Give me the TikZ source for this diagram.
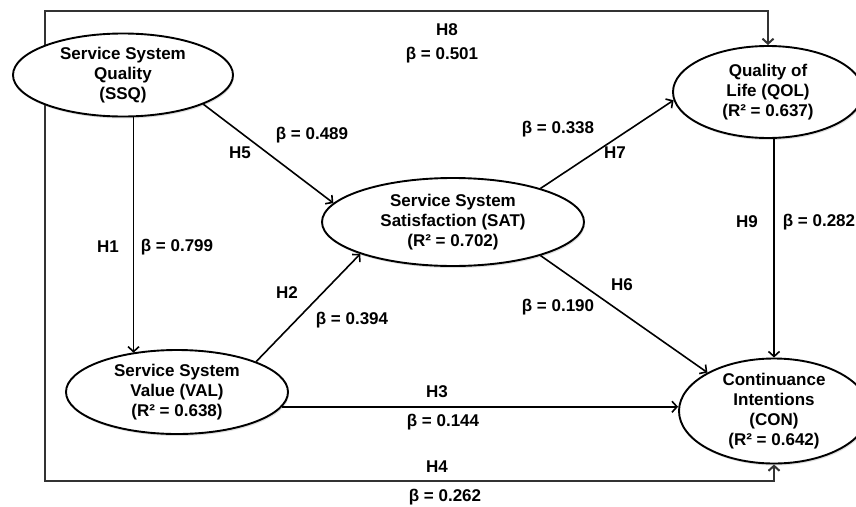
\documentclass[tikz,border=0pt]{standalone}
\usepackage{fontspec}
\setmainfont{Liberation Sans}
\usetikzlibrary{shapes.geometric,arrows.meta,shadows,backgrounds}

\begin{document}
\begin{tikzpicture}[x=1pt,y=-1pt,
  font=\fontsize{17}{20}\selectfont\bfseries,
  construct/.style={ellipse,draw,line width=1.9pt,fill=white,align=center,inner sep=0pt,
    drop shadow={opacity=0.25,shadow xshift=1pt,shadow yshift=-2pt}},
  link/.style={line width=1.6pt,-{Straight Barb[length=5pt,width=11pt]}},
  frame/.style={link,line width=2pt,draw=black!80}]
\useasboundingbox (0,0) rectangle (856,506);

\coordinate (top) at (0,11);
\coordinate (bot) at (0,481);

\node[construct,minimum width=220,minimum height=83] (ssq) at (123,75) {Service System\\Quality\\(SSQ)};
\node[construct,minimum width=222,minimum height=84] (val) at (177,392) {Service System\\Value (VAL)\\(R² = 0.638)};
\node[construct,minimum width=262,minimum height=88] (sat) at (453,222) {Service System\\Satisfaction (SAT)\\(R² = 0.702)};
\node[construct,minimum width=190,minimum height=92] (qol) at (768,92) {Quality of\\Life (QOL)\\(R² = 0.637)};
\node[construct,minimum width=190,minimum height=105,inner ysep=-3pt] (con) at (774,411) {Continuance\\Intentions\\(CON)\\(R² = 0.642)};

\begin{pgfonlayer}{background}
\draw[frame] (ssq.159) -- (ssq.159 |- top) -| (qol.north);
\draw[frame] (ssq.201) -- (ssq.201 |- bot) -| (con.south);
\end{pgfonlayer}

\draw[link] (ssq.284) -- (ssq.284 |- val.139);
\draw[link] (ssq.-20) -- (sat.171);
\draw[link] (val.21) -- (sat.199);
\draw[link] (sat.21) -- (qol.185);
\draw[link] (sat.-21) -- (con.150);
\draw[link] (val.-8) -- (val.-8 -| con.west);
\draw[link] (con.north |- qol.south) -- (con.north);

\node (h8) at (447,30) {H8};
\node (b8) at (442,55) {β = 0.501};
\node (h5) at (240,153) {H5};
\node (b5) at (312,135) {β = 0.489};
\node (h1) at (108,247) {H1};
\node (b1) at (177,247) {β = 0.799};
\node (h2) at (287,293) {H2};
\node (b2) at (352,320) {β = 0.394};
\node (b7) at (558,129) {β = 0.338};
\node (h7) at (615,153) {H7};
\node (h9) at (747,222) {H9};
\node (b9) at (819,222) {β = 0.282};
\node (h6) at (622,285) {H6};
\node (b6) at (558,307) {β = 0.190};
\node (h3) at (437,392) {H3};
\node (b3) at (443,422) {β = 0.144};
\node (h4) at (437,467) {H4};
\node (b4) at (445,497) {β = 0.262};
\end{tikzpicture}
\end{document}
